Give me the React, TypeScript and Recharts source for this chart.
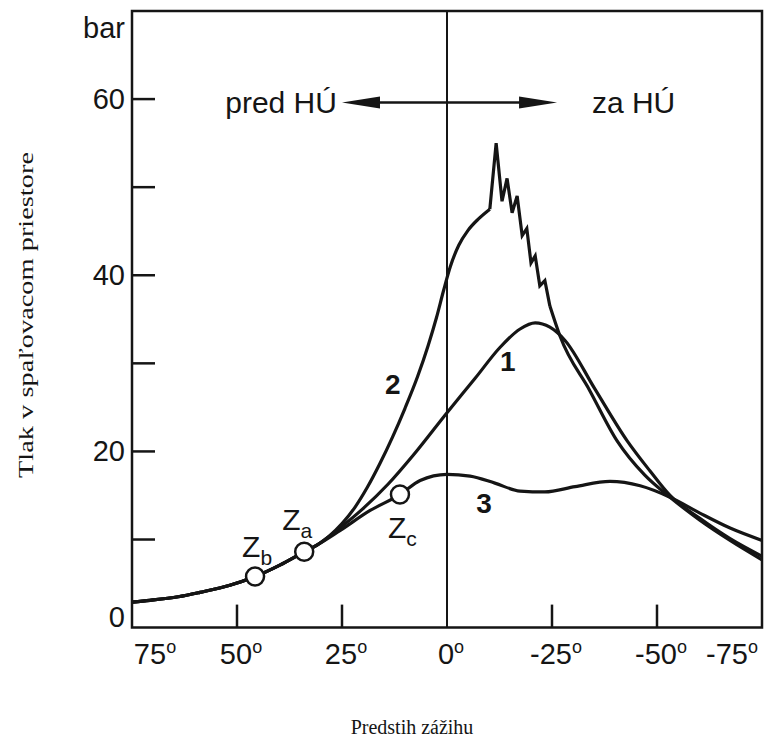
import { ComposedChart, Line, Scatter, XAxis, YAxis, ReferenceLine, ReferenceArea, ReferenceDot } from 'recharts'

// crank angle in degrees (before TDC positive), pressure in bar
const commonDeg = [75, 70.7, 64, 58.8, 51.7, 45.7, 39.8, 34, 31]
const commonBar = [2.9, 3.1, 3.5, 4.0, 4.8, 5.8, 7.1, 8.6, 9.35]

const curve1Deg = [25.5, 20, 14, 8, 0, -6.7, -12.6, -17.4, -21, -24.5, -28.1, -35.2, -42.9, -48.3, -53.1, -60.2, -67.4, -75]
const curve1Bar = [11.3, 13.5, 16.3, 19.6, 24.4, 28.3, 31.8, 33.9, 34.6, 34.1, 32.6, 27.1, 21.2, 17.8, 15.0, 12.4, 10.1, 8.1]

const curve2RiseDeg = [28, 25, 22, 19, 16, 13, 10, 7, 4.5, 2.5, 0.8, -0.8, -2.8, -5.0, -7.5, -10.2]
const curve2RiseBar = [10.4, 11.8, 13.6, 15.9, 18.6, 21.6, 24.9, 28.5, 32.0, 35.2, 38.3, 41.0, 43.4, 45.1, 46.4, 47.5]
const knockDeg = [-10.2, -11.7, -13.1, -14.3, -15.5, -16.7, -17.9, -19.0, -20.0, -21.0, -22.1, -23.3, -24.5]
const knockBar = [47.5, 55.0, 48.4, 51.0, 47.1, 49.0, 44.5, 45.3, 41.4, 42.2, 38.8, 39.4, 36.5]
const curve2FallDeg = [-24.5, -26.9, -34.0, -40.5, -47.1, -53.1, -60.2, -67.4, -75]
const curve2FallBar = [36.5, 33.1, 26.9, 21.2, 17.3, 14.8, 12.2, 9.9, 7.7]

const curve3Deg = [25.5, 18.3, 11.2, 6.4, 0, -5.5, -11.4, -17.4, -23.3, -30.5, -38.8, -46, -53.1, -60.2, -67.4, -75]
const curve3Bar = [11.0, 13.3, 15.1, 16.7, 17.4, 17.2, 16.4, 15.5, 15.4, 16.0, 16.6, 16.1, 14.8, 13.0, 11.3, 9.9]

// ignition points Zb, Za, Zc
const ignitionSub = ['b', 'a', 'c']
const ignitionDeg = [45.7, 34, 11.2]
const ignitionBar = [5.8, 8.6, 15.1]

const xTicks = [75, 50, 25, 0, -25, -50, -75]
const yTicks = [0, 10, 20, 30, 40, 50, 60, 70]

const pts = (xs: number[], ys: number[]) => xs.map((x, i) => ({ x, y: ys[i] }))

const curve1 = pts([...commonDeg, ...curve1Deg], [...commonBar, ...curve1Bar])
const curve2Rise = pts([...commonDeg, ...curve2RiseDeg], [...commonBar, ...curve2RiseBar])
const curve2Knock = pts(knockDeg, knockBar)
const curve2Fall = pts(curve2FallDeg, curve2FallBar)
const curve3 = pts([...commonDeg, ...curve3Deg], [...commonBar, ...curve3Bar])
const ignition = ignitionDeg.map((x, i) => ({ x, y: ignitionBar[i], sub: ignitionSub[i] }))

const INK = '#151515'
const SANS = '"Liberation Sans", Arial, Helvetica, sans-serif'
const SERIF = '"Liberation Serif", "Times New Roman", serif'

const labelOffset: Record<string, [number, number]> = { b: [-13, -20], a: [-22, -22], c: [-12, 43] }

const XTick = (props: any) => {
  const { x, y, payload } = props
  const v = payload.value
  const shift = v === 75 ? 23 : v === -75 ? -30 : 4
  return (
    <g>
      {v !== 0 && Math.abs(v) !== 75 && <line x1={x} x2={x} y1={y} y2={y - 23} stroke={INK} strokeWidth={2.5} />}
      <text x={x + shift} y={y + 36} textAnchor="middle" fontSize={29} fontFamily={SANS} fill={INK}>
        <tspan>{v}</tspan>
        <tspan dy={-11} fontSize={18}>o</tspan>
      </text>
    </g>
  )
}

const YTick = (props: any) => {
  const { x, y, payload } = props
  const v = payload.value
  let label: string | null = null
  let dy = 10
  if (v === 70) { label = 'bar'; dy = 27 }
  else if (v === 0) { label = '0'; dy = -1 }
  else if (v % 20 === 0) label = String(v)
  return (
    <g>
      {v > 0 && v < 70 && <line x1={x} x2={x + 23} y1={y} y2={y} stroke={INK} strokeWidth={2.5} />}
      {label && (
        <text x={x - 7} y={y + dy} textAnchor="end" fontSize={29} fontFamily={SANS} fill={INK}>{label}</text>
      )}
    </g>
  )
}

const IgnitionMark = (props: any) => {
  const { cx, cy, payload } = props
  const [dx, dy] = labelOffset[payload.sub]
  return (
    <g>
      <circle cx={cx} cy={cy} r={9} fill="#fff" stroke={INK} strokeWidth={2.5} />
      <text x={cx + dx} y={cy + dy} fontSize={30} fontFamily={SANS} fill={INK}>
        <tspan>Z</tspan>
        <tspan dy={8} fontSize={21}>{payload.sub}</tspan>
      </text>
    </g>
  )
}

const DoubleArrow = (props: any) => {
  const { x1, y1, x2, y2 } = props
  const head = 38
  const half = 6
  return (
    <g>
      <line x1={x1 + head - 2} y1={y1} x2={x2 - head + 2} y2={y2} stroke={INK} strokeWidth={2.5} />
      <polygon points={`${x1},${y1} ${x1 + head},${y1 - half} ${x1 + head},${y1 + half}`} fill={INK} />
      <polygon points={`${x2},${y2} ${x2 - head},${y2 - half} ${x2 - head},${y2 + half}`} fill={INK} />
    </g>
  )
}

const textAt = (s: string, anchor: string, size: number, bold = false) => (p: any) => (
  <text x={p.cx} y={p.cy + size * 0.36} textAnchor={anchor} fontSize={size} fontWeight={bold ? 700 : 400} fontFamily={SANS} fill={INK}>{s}</text>
)

const App = () => {
  return (
    <div style={{ position: 'absolute', left: 0, top: 0, width: 765, height: 742, background: '#fff' }}>
      <ComposedChart width={765} height={742} margin={{ top: 11, right: 3, bottom: 74.4, left: 72 }}>
        <XAxis dataKey="x" type="number" domain={[-75, 75]} reversed allowDataOverflow ticks={xTicks} interval={0}
          tick={<XTick />} tickLine={false} axisLine={false} tickSize={0} tickMargin={0} height={40} />
        <YAxis type="number" domain={[0, 70]} allowDataOverflow ticks={yTicks} interval={0}
          tick={<YTick />} tickLine={false} axisLine={false} tickSize={0} tickMargin={0} width={60} />
        <ReferenceArea x1={75} x2={-75} y1={0} y2={70} fill="none" stroke={INK} strokeWidth={2.5} ifOverflow="visible" />
        <ReferenceLine x={0} stroke={INK} strokeWidth={2} />
        <ReferenceLine segment={[{ x: 25, y: 59.6 }, { x: -26.2, y: 59.6 }]} shape={<DoubleArrow />} ifOverflow="visible" />
        <ReferenceDot x={26.2} y={59.6} r={0} shape={textAt('pred HÚ', 'end', 30)} />
        <ReferenceDot x={-34.5} y={59.6} r={0} shape={textAt('za HÚ', 'start', 30)} />
        <ReferenceDot x={12.9} y={27.7} r={0} shape={textAt('2', 'middle', 28, true)} />
        <ReferenceDot x={-14.5} y={30.3} r={0} shape={textAt('1', 'middle', 28, true)} />
        <ReferenceDot x={-8.8} y={14.1} r={0} shape={textAt('3', 'middle', 28, true)} />
        <Line data={curve3} dataKey="y" type="monotone" stroke={INK} strokeWidth={3.2} dot={false} isAnimationActive={false} />
        <Line data={curve1} dataKey="y" type="monotone" stroke={INK} strokeWidth={3.2} dot={false} isAnimationActive={false} />
        <Line data={curve2Rise} dataKey="y" type="monotone" stroke={INK} strokeWidth={3.2} dot={false} isAnimationActive={false} />
        <Line data={curve2Knock} dataKey="y" type="linear" stroke={INK} strokeWidth={3.2} strokeLinejoin="miter" dot={false} isAnimationActive={false} />
        <Line data={curve2Fall} dataKey="y" type="monotone" stroke={INK} strokeWidth={3.2} dot={false} isAnimationActive={false} />
        <Scatter data={ignition} dataKey="y" shape={<IgnitionMark />} isAnimationActive={false} />
      </ComposedChart>
      <svg width={765} height={742} style={{ position: 'absolute', left: 0, top: 0, pointerEvents: 'none' }}>
        <text x={412} y={734} textAnchor="middle" fontSize={20} fontFamily={SERIF} fill={INK}>Predstih zážihu</text>
        <text transform="rotate(-90)" x={-315} y={33} textAnchor="middle" fontSize={22} fontFamily={SERIF} fill={INK}
          textLength={326} lengthAdjust="spacingAndGlyphs">Tlak v spaľovacom priestore</text>
      </svg>
    </div>
  )
}

export default App
